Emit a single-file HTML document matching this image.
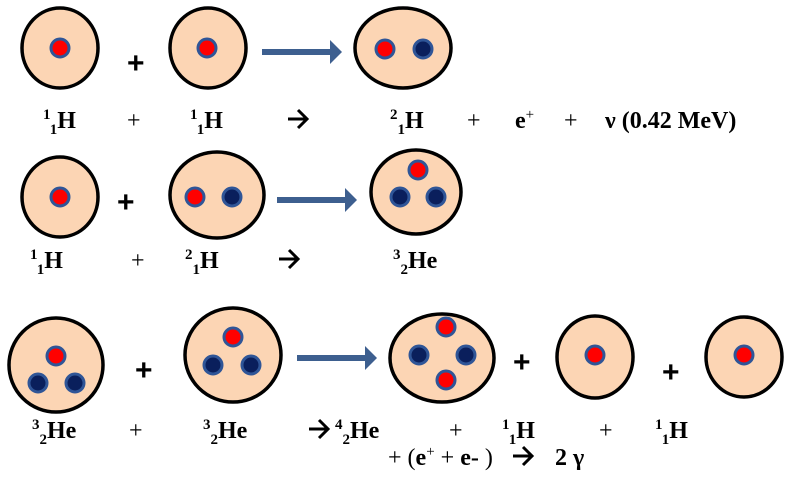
<!DOCTYPE html>
<html><head><meta charset="utf-8"><style>
html,body{margin:0;padding:0;background:#fff;}
svg{display:block;}
.n{fill:#fcd5b4;stroke:#000;stroke-width:3.5;}
.p{fill:#ff0000;stroke:#2f5597;stroke-width:3;}
.b{fill:#0a1f5c;stroke:#2f5597;stroke-width:3;}
.t{font-family:"Liberation Serif",serif;font-weight:bold;font-size:24px;fill:#000;}
.s{font-size:15px;}
.r{font-family:"Liberation Serif",serif;font-size:24px;fill:#000;}
.pl{font-family:"Liberation Sans",sans-serif;font-weight:bold;font-size:30px;fill:#000;}
.ar{fill:none;stroke:#000;stroke-width:3;}
</style></head><body>
<svg width="800" height="478" viewBox="0 0 800 478" xmlns="http://www.w3.org/2000/svg">
<defs><marker id="a" markerWidth="4" markerHeight="4" refX="0" refY="2" orient="auto" markerUnits="strokeWidth"><path d="M0,0 L2,2 L0,4z" fill="#3d5f8f"/></marker></defs>
<!-- Row 1 -->
<ellipse class="n" cx="60" cy="48" rx="38" ry="40"/><circle class="p" cx="60" cy="48" r="9"/>
<text class="pl" x="127" y="73">+</text>
<ellipse class="n" cx="208" cy="48" rx="38" ry="40"/><circle class="p" cx="207" cy="48" r="9"/>
<line x1="262" y1="52" x2="330" y2="52" stroke="#3d5f8f" stroke-width="6" marker-end="url(#a)"/>
<ellipse class="n" cx="403" cy="48" rx="48" ry="40"/><circle class="p" cx="385" cy="49" r="9"/><circle class="b" cx="423" cy="49" r="9"/>
<text class="t" x="43" y="128"><tspan class="s" dy="-9">1</tspan><tspan class="s" dy="15">1</tspan><tspan dy="-6">H</tspan></text>
<text class="r" x="127" y="128">+</text>
<text class="t" x="190" y="128"><tspan class="s" dy="-9">1</tspan><tspan class="s" dy="15">1</tspan><tspan dy="-6">H</tspan></text>
<path class="ar" d="M288,119 H306 M298,110 L307,119 L298,128"/>
<text class="t" x="390" y="128"><tspan class="s" dy="-9">2</tspan><tspan class="s" dy="15">1</tspan><tspan dy="-6">H</tspan></text>
<text class="r" x="467" y="128">+</text>
<text class="t" x="515" y="128">e<tspan class="s" dy="-9" font-weight="normal">+</tspan></text>
<text class="r" x="564" y="128">+</text>
<text class="t" x="605" y="128">ν (0.42 MeV)</text>
<!-- Row 2 -->
<ellipse class="n" cx="60" cy="197" rx="38" ry="40"/><circle class="p" cx="60" cy="197" r="9"/>
<text class="pl" x="117" y="212">+</text>
<ellipse class="n" cx="217" cy="195" rx="47" ry="43"/><circle class="p" cx="195" cy="197" r="9"/><circle class="b" cx="232" cy="197" r="9"/>
<line x1="277" y1="200" x2="345" y2="200" stroke="#3d5f8f" stroke-width="6" marker-end="url(#a)"/>
<ellipse class="n" cx="416" cy="192" rx="45" ry="42"/><circle class="p" cx="418" cy="170" r="9"/><circle class="b" cx="400" cy="197" r="9"/><circle class="b" cx="436" cy="197" r="9"/>
<text class="t" x="30" y="268"><tspan class="s" dy="-9">1</tspan><tspan class="s" dy="15">1</tspan><tspan dy="-6">H</tspan></text>
<text class="r" x="131" y="268">+</text>
<text class="t" x="185" y="268"><tspan class="s" dy="-9">2</tspan><tspan class="s" dy="15">1</tspan><tspan dy="-6">H</tspan></text>
<path class="ar" d="M279,259 H297 M289,250 L298,259 L289,268"/>
<text class="t" x="393" y="268"><tspan class="s" dy="-9">3</tspan><tspan class="s" dy="15">2</tspan><tspan dy="-6">He</tspan></text>
<!-- Row 3 -->
<ellipse class="n" cx="56" cy="365" rx="47" ry="47"/><circle class="p" cx="56" cy="356" r="9"/><circle class="b" cx="38" cy="383" r="9"/><circle class="b" cx="75" cy="383" r="9"/>
<text class="pl" x="135" y="380">+</text>
<ellipse class="n" cx="233" cy="355" rx="48" ry="47"/><circle class="p" cx="233" cy="337" r="9"/><circle class="b" cx="213" cy="365" r="9"/><circle class="b" cx="251" cy="365" r="9"/>
<line x1="297" y1="358" x2="365" y2="358" stroke="#3d5f8f" stroke-width="6" marker-end="url(#a)"/>
<ellipse class="n" cx="442" cy="358" rx="52" ry="44"/><circle class="p" cx="446" cy="327" r="9"/><circle class="p" cx="446" cy="380" r="9"/><circle class="b" cx="419" cy="355" r="9"/><circle class="b" cx="466" cy="355" r="9"/>
<text class="pl" x="513" y="372">+</text>
<ellipse class="n" cx="595" cy="357" rx="38" ry="41"/><circle class="p" cx="595" cy="355" r="9"/>
<text class="pl" x="662" y="382">+</text>
<ellipse class="n" cx="744" cy="357" rx="38" ry="40"/><circle class="p" cx="744" cy="355" r="9"/>
<text class="t" x="32" y="438"><tspan class="s" dy="-9">3</tspan><tspan class="s" dy="15">2</tspan><tspan dy="-6">He</tspan></text>
<text class="r" x="129" y="438">+</text>
<text class="t" x="203" y="438"><tspan class="s" dy="-9">3</tspan><tspan class="s" dy="15">2</tspan><tspan dy="-6">He</tspan></text>
<path class="ar" d="M309,429 H327 M319,420 L328,429 L319,438"/>
<text class="t" x="335" y="438"><tspan class="s" dy="-9">4</tspan><tspan class="s" dy="15">2</tspan><tspan dy="-6">He</tspan></text>
<text class="r" x="449" y="438">+</text>
<text class="t" x="502" y="438"><tspan class="s" dy="-9">1</tspan><tspan class="s" dy="15">1</tspan><tspan dy="-6">H</tspan></text>
<text class="r" x="599" y="438">+</text>
<text class="t" x="655" y="438"><tspan class="s" dy="-9">1</tspan><tspan class="s" dy="15">1</tspan><tspan dy="-6">H</tspan></text>
<text class="r" x="388" y="465">+ (<tspan font-weight="bold">e</tspan><tspan class="s" dy="-9">+</tspan><tspan dy="9"> + </tspan><tspan font-weight="bold">e-</tspan> )</text>
<path class="ar" d="M513,456 H531 M523,447 L532,456 L523,465"/>
<text class="t" x="555" y="465">2 γ</text>
</svg>
</body></html>
